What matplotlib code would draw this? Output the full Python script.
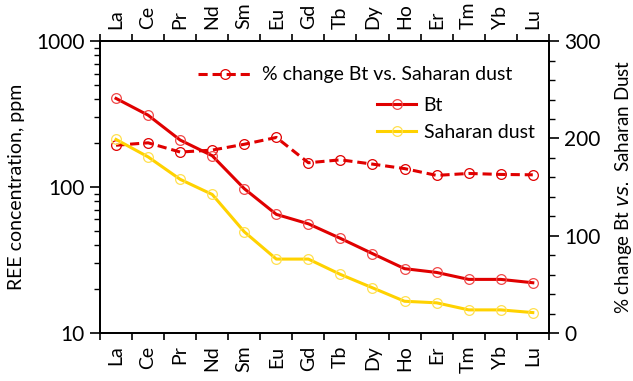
import numpy as np
import matplotlib
matplotlib.use("Agg")
import matplotlib.pyplot as plt
from matplotlib.ticker import LogLocator, MultipleLocator, FixedLocator, NullFormatter

plt.rcParams['font.family'] = ['Lato', 'DejaVu Sans']

elements = ["La", "Ce", "Pr", "Nd", "Sm", "Eu", "Gd", "Tb", "Dy", "Ho", "Er", "Tm", "Yb", "Lu"]
bt = [405, 311, 210, 164, 97.5, 65, 56, 44.5, 35, 27.6, 26, 23.3, 23.3, 22.1]
saharan = [212, 161, 113, 89, 49.4, 32.1, 32.1, 25.2, 20.4, 16.5, 16.1, 14.4, 14.4, 13.8]
pct_change = [193, 195.5, 186, 188, 194, 201, 175, 178, 173.6, 169, 162, 164, 163, 162.6]

red = "#E00000"
yellow = "#FFD200"

fig = plt.figure(figsize=(6.33, 3.81), dpi=100)
ax = fig.add_axes([0.158, 0.126, 0.709, 0.766])
ax2 = ax.twinx()

x = np.arange(len(elements))

l_bt, = ax.plot(x, bt, color=red, lw=2.2, marker="o", ms=7, mfc="none",
                mec="#F04848", mew=0.9, label="Bt", zorder=3)
l_sd, = ax.plot(x, saharan, color=yellow, lw=2.2, marker="o", ms=7, mfc="none",
                mec="#FFE050", mew=0.9, label="Saharan dust", zorder=3)
l_pc, = ax2.plot(x, pct_change, color=red, lw=2.2, ls=(0, (3, 1.6)), marker="o", ms=7,
                 mfc="none", mec=red, mew=0.9, label="% change Bt vs. Saharan dust")

ax.set_yscale("log")
ax.set_ylim(10, 1000)
ax.set_xlim(-0.5, len(elements) - 0.5)
ax.yaxis.set_minor_locator(LogLocator(base=10, subs=np.arange(2, 10), numticks=20))
ax.yaxis.set_minor_formatter(NullFormatter())
ax.set_yticks([10, 100, 1000])
ax.set_yticklabels(["10", "100", "1000"])

ax2.set_ylim(0, 300)
ax2.yaxis.set_major_locator(MultipleLocator(100))
ax2.yaxis.set_minor_locator(MultipleLocator(20))

# category labels centered between boundary ticks, top and bottom
ax.set_xticks(x)
ax.set_xticklabels(elements, rotation=90)
ax.xaxis.set_minor_locator(FixedLocator(np.arange(-0.5, len(elements), 1)))
ax.tick_params(axis="x", which="major", length=0, pad=9, labelsize=14,
               top=True, labeltop=True, bottom=True, labelbottom=True)
ax.tick_params(axis="x", which="minor", length=5, width=1.2, direction="out",
               top=True, bottom=True)

ax.tick_params(axis="y", which="major", length=7, width=1.2, direction="out", labelsize=15, pad=4)
ax.tick_params(axis="y", which="minor", length=4, width=1.0, direction="out")
ax2.tick_params(axis="y", which="major", length=7, width=1.2, direction="out", labelsize=15, pad=4)
ax2.tick_params(axis="y", which="minor", length=4, width=1.0, direction="out")

for a in (ax, ax2):
    for s in a.spines.values():
        s.set_linewidth(1.3)

ax.set_ylabel("REE concentration, ppm", fontsize=14, labelpad=8)
ax2.set_ylabel(r"% change Bt $\mathit{vs.}$ Saharan Dust", fontsize=13.5, labelpad=9)

leg1 = ax2.legend(handles=[l_pc], loc="upper left", bbox_to_anchor=(0.2, 0.94),
                  frameon=False, fontsize=14, handlelength=2.8, handletextpad=0.5,
                  borderaxespad=0)
leg2 = ax.legend(handles=[l_bt, l_sd], loc="upper left", bbox_to_anchor=(0.6, 0.835),
                 frameon=False, fontsize=14, handlelength=2.0, handletextpad=0.4,
                 labelspacing=0.5, borderaxespad=0)
ax.set_zorder(ax2.get_zorder() + 1)
ax.patch.set_visible(False)

fig.savefig("out.png", dpi=100)
